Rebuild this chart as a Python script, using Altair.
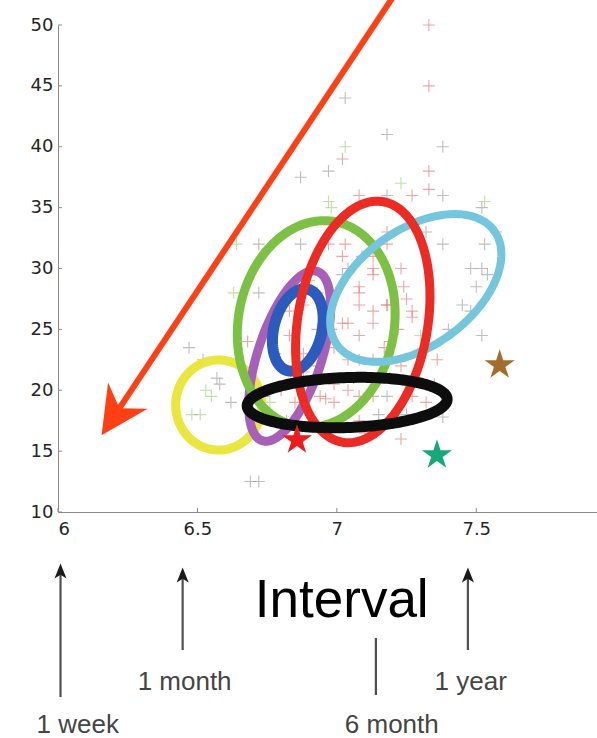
import altair as alt
import numpy as np
import pandas as pd

# ---------------- data ----------------
X_MIN, X_MAX = 6.0, 7.933
Y_MIN, Y_MAX = 10.0, 50.0
x_ticks = [6, 6.5, 7, 7.5]
y_ticks = [10, 15, 20, 25, 30, 35, 40, 45, 50]

plus_x = [7.33, 7.33, 7.03, 7.18, 7.38, 7.03, 7.02, 6.97, 6.87, 7.33, 7.33, 7.23, 7.27, 7.08, 7.18,
          6.97, 7.53, 7.38, 6.87, 6.97, 7.03, 7.18, 7.18, 7.32, 7.38, 7.53, 7.57,
          6.98, 6.72, 6.64, 6.63, 6.72,
          6.47, 6.52, 6.57, 6.51, 6.55, 6.62, 6.69, 6.72, 6.68, 6.58, 6.53, 6.48, 6.76, 6.96,
          7.02, 7.13, 7.09, 7.13, 7.23, 7.02, 7.08, 7.13, 7.18, 7.27, 7.08, 7.02, 7.48, 7.54, 7.50, 7.52,
          7.04, 7.08, 7.13, 7.18, 7.25, 7.27, 7.04, 7.08, 7.13, 7.19, 6.99, 7.04, 7.08, 7.13,
          6.99, 7.04, 7.08, 7.13, 7.18, 7.27, 7.32, 6.99, 6.94, 7.23, 7.19, 7.25, 7.08, 6.98,
          7.52, 7.48, 7.52, 6.83, 6.83, 6.88, 6.88, 6.88, 6.93, 6.93, 6.83, 6.78, 6.78, 6.98,
          6.98, 6.93, 7.23, 7.29, 7.35, 7.38, 7.28, 7.19, 7.01, 7.10, 6.85, 6.80, 6.74, 6.82,
          7.17, 7.22, 7.30, 7.36, 6.90, 7.06, 7.15, 7.24, 7.40, 7.45]
plus_y = [50, 45, 44, 41, 40, 40, 39, 38, 37.5, 38, 36.5, 37, 36, 36, 36,
          35.5, 35.5, 36, 32, 32, 32, 33, 32, 33, 32, 32, 33,
          35, 32, 32, 28, 28,
          23.5, 22.5, 21, 18, 19.5, 19, 12.5, 12.5, 24, 20.5, 20, 18, 19, 19.3,
          31, 31, 31, 30, 30, 29.5, 28.5, 26.5, 27, 26, 27, 25.5, 30, 29.5, 28.5, 35,
          30, 28, 29.5, 27, 27.5, 26.5, 25.5, 24.5, 25.5, 24, 23.5, 22.5, 22.5, 22.5,
          20.5, 20, 19.5, 19.5, 19.5, 19.5, 19, 19, 19.5, 16, 17.5, 18, 17.5, 17,
          30, 26.5, 24.5, 26.5, 24.5, 27, 23, 21.5, 25, 22, 28.5, 26, 23, 27,
          25, 28, 22, 23, 20.5, 17.8, 21, 21, 17.5, 16.5, 19, 20, 19.5, 17.5,
          23.5, 25, 24.5, 22.5, 29, 21, 18, 28.5, 25, 27]
plus_c = ["r", "r", "g", "g", "g", "n", "r", "g", "g", "r", "r", "n", "r", "r", "g",
          "n", "n", "g", "g", "r", "r", "r", "r", "g", "g", "g", "g",
          "n", "g", "n", "n", "g",
          "g", "g", "g", "n", "n", "g", "g", "g", "r", "g", "n", "n", "n", "r",
          "r", "r", "r", "r", "r", "g", "r", "r", "r", "r", "r", "r", "g", "g", "g", "g",
          "r", "r", "r", "r", "r", "r", "r", "r", "r", "r", "r", "r", "r", "r",
          "r", "r", "r", "r", "g", "r", "r", "r", "r", "r", "r", "g", "r", "g",
          "g", "g", "g", "r", "r", "r", "r", "r", "r", "r", "r", "r", "g", "r",
          "r", "r", "r", "r", "r", "g", "r", "r", "n", "r", "r", "r", "r", "g",
          "r", "r", "n", "r", "n", "r", "g", "r", "g", "g"]

# ellipses: centre, half-extent in x and y (data units), correlation
ell_name = ["yellow", "purple", "blue", "green", "cyan", "red", "black"]
ell_cx = [6.576, 6.831, 6.860, 6.926, 7.283, 7.093, 7.037]
ell_cy = [18.79, 22.81, 24.95, 25.44, 28.40, 25.61, 18.99]
ell_sx = [0.154, 0.147, 0.091, 0.283, 0.307, 0.241, 0.3585]
ell_sy = [3.70, 7.00, 3.38, 8.49, 6.07, 9.92, 2.07]
ell_rho = [0.0, 0.58, 0.27, 0.10, 0.455, 0.214, 0.13]
ell_color = ["#E9E63F", "#A660B8", "#2C5BBE", "#7CC144", "#73C6DB", "#EC2B25", "#0D0D0D"]
ell_width = [9, 9, 11, 9, 8, 9, 11]

star_x = [6.857, 7.359, 7.584]
star_y = [15.91, 14.68, 22.07]
star_color = ["#EE1C1C", "#16A878", "#A36E2C"]

# big red arrow (tail beyond top, tip at lower left)
arrow_x, arrow_x2 = 7.206, 6.212
arrow_y, arrow_y2 = 52.46, 18.24
arrow_head_x, arrow_head_y = 6.2034, 17.93

# annotations under the axis
ann_label = ["1 week", "1 month", "6 month", "1 year"]
ann_x = [6.009, 6.447, 7.140, 7.470]
ann_top = [5.24, 4.91, -0.35, 4.91]
ann_bottom = [-5.20, -1.34, -5.03, -1.34]
ann_head_y = [5.15, 4.83, None, 4.83]
label_x = [6.071, 6.454, 7.197, 7.48]
label_y = [-8.15, -4.62, -8.15, -4.62]
title_text, title_x, title_y = "Interval", 7.0176, 1.376

# ---------------- chart ----------------
W, H = 539, 487
px_x = W / (X_MAX - X_MIN)
px_y = H / (Y_MAX - Y_MIN)

xs = alt.Scale(domain=[X_MIN, X_MAX], nice=False, zero=False)
ys = alt.Scale(domain=[Y_MIN, Y_MAX], nice=False, zero=False)
xax = alt.Axis(values=x_ticks, format="~g", ticks=False, grid=False, domainColor="#8a8a8a",
               labelFont="DejaVu Sans", labelFontSize=18, labelColor="#262626", labelPadding=8,
               title=None)
yax = alt.Axis(values=y_ticks, format="d", ticks=False, grid=False, domainColor="#8a8a8a",
               labelFont="DejaVu Sans", labelFontSize=18, labelColor="#262626", labelPadding=5,
               title=None)


def X(f):
    return alt.X(f, type="quantitative", scale=xs, axis=xax)


def Y(f):
    return alt.Y(f, type="quantitative", scale=ys, axis=yax)


layers = []

# inward tick marks
xt = pd.DataFrame({"x": x_ticks, "y": Y_MIN, "y2": Y_MIN + 4 / px_y})
yt = pd.DataFrame({"y": y_ticks, "x": X_MIN, "x2": X_MIN + 4 / px_x})
layers.append(alt.Chart(xt).mark_rule(color="#8a8a8a", strokeWidth=1).encode(
    x=X("x"), y=Y("y"), y2="y2"))
layers.append(alt.Chart(yt).mark_rule(color="#8a8a8a", strokeWidth=1).encode(
    x=X("x"), x2="x2", y=Y("y")))

# plus markers
plus_df = pd.DataFrame({"x": plus_x, "y": plus_y, "c": plus_c})
layers.append(alt.Chart(plus_df).mark_point(
    shape="M-1,0L1,0M0,-1L0,1", filled=False, size=144, strokeWidth=1.1, opacity=0.5
).encode(
    x=X("x"), y=Y("y"),
    color=alt.Color("c:N", scale=alt.Scale(domain=["g", "r", "n"],
                                           range=["#808080", "#DD5050", "#86C060"]), legend=None)
))

# ellipses
t = np.linspace(0, 2 * np.pi, 181)
for i in range(len(ell_name)):
    ex = ell_cx[i] + ell_sx[i] * np.cos(t)
    ey = ell_cy[i] + ell_sy[i] * (ell_rho[i] * np.cos(t) + np.sqrt(1 - ell_rho[i] ** 2) * np.sin(t))
    edf = pd.DataFrame({"x": ex, "y": ey, "i": np.arange(len(t))})
    layers.append(alt.Chart(edf).mark_line(
        color=ell_color[i], strokeWidth=ell_width[i], strokeJoin="round", strokeCap="round"
    ).encode(x=X("x"), y=Y("y"), order="i:Q"))

# stars
star_path = ("M0,-1L0.2245,-0.309L0.9511,-0.309L0.3633,0.118L0.5878,0.809L0,0.382"
             "L-0.5878,0.809L-0.3633,0.118L-0.9511,-0.309L-0.2245,-0.309Z")
star_df = pd.DataFrame({"x": star_x, "y": star_y, "col": star_color})
layers.append(alt.Chart(star_df).mark_point(
    shape=star_path, filled=True, size=1000, opacity=1, strokeWidth=0
).encode(x=X("x"), y=Y("y"), color=alt.Color("col:N", scale=None)))

# big red arrow
arr_df = pd.DataFrame({"x": [arrow_x], "y": [arrow_y], "x2": [arrow_x2], "y2": [arrow_y2]})
layers.append(alt.Chart(arr_df).mark_rule(color="#FF4015", strokeWidth=6).encode(
    x=X("x"), y=Y("y"), x2="x2", y2="y2"))
head_df = pd.DataFrame({"x": [arrow_head_x], "y": [arrow_head_y]})
layers.append(alt.Chart(head_df).mark_point(
    shape="M0,1L-1,-1L0,-0.36L1,-1Z", filled=True, size=2256, angle=33.6,
    color="#FF4015", opacity=1, strokeWidth=0
).encode(x=X("x"), y=Y("y")))

# annotation arrows under the axis
ann_df = pd.DataFrame({"x": ann_x, "top": ann_top, "bottom": ann_bottom})
layers.append(alt.Chart(ann_df).mark_rule(color="#505050", strokeWidth=2.2).encode(
    x=X("x"), y=Y("top"), y2="bottom"))
hd = pd.DataFrame({"x": [ann_x[i] for i in range(4) if ann_head_y[i] is not None],
                   "y": [v for v in ann_head_y if v is not None]})
layers.append(alt.Chart(hd).mark_point(
    shape="M0,-1L-0.8,1L0,0.5L0.8,1Z", filled=True, size=225, color="#1a1a1a",
    opacity=1, strokeWidth=0
).encode(x=X("x"), y=Y("y")))
lab_df = pd.DataFrame({"x": label_x, "y": label_y, "t": ann_label})
layers.append(alt.Chart(lab_df).mark_text(
    font="Liberation Sans", fontSize=26, color="#454545", align="center", baseline="alphabetic"
).encode(x=X("x"), y=Y("y"), text="t:N"))
ttl_df = pd.DataFrame({"x": [title_x], "y": [title_y], "t": [title_text]})
layers.append(alt.Chart(ttl_df).mark_text(
    font="Liberation Sans", fontSize=53, color="#000000", align="center", baseline="alphabetic"
).encode(x=X("x"), y=Y("y"), text="t:N"))

chart = alt.layer(*layers).properties(
    width=W, height=H,
    autosize=alt.AutoSizeParams(type="none"),
    padding={"left": 58, "top": 25, "right": 0, "bottom": 226},
    background="white",
).configure_view(stroke=None)

chart.save("out.html", embed_options={"renderer": "svg", "actions": False})
